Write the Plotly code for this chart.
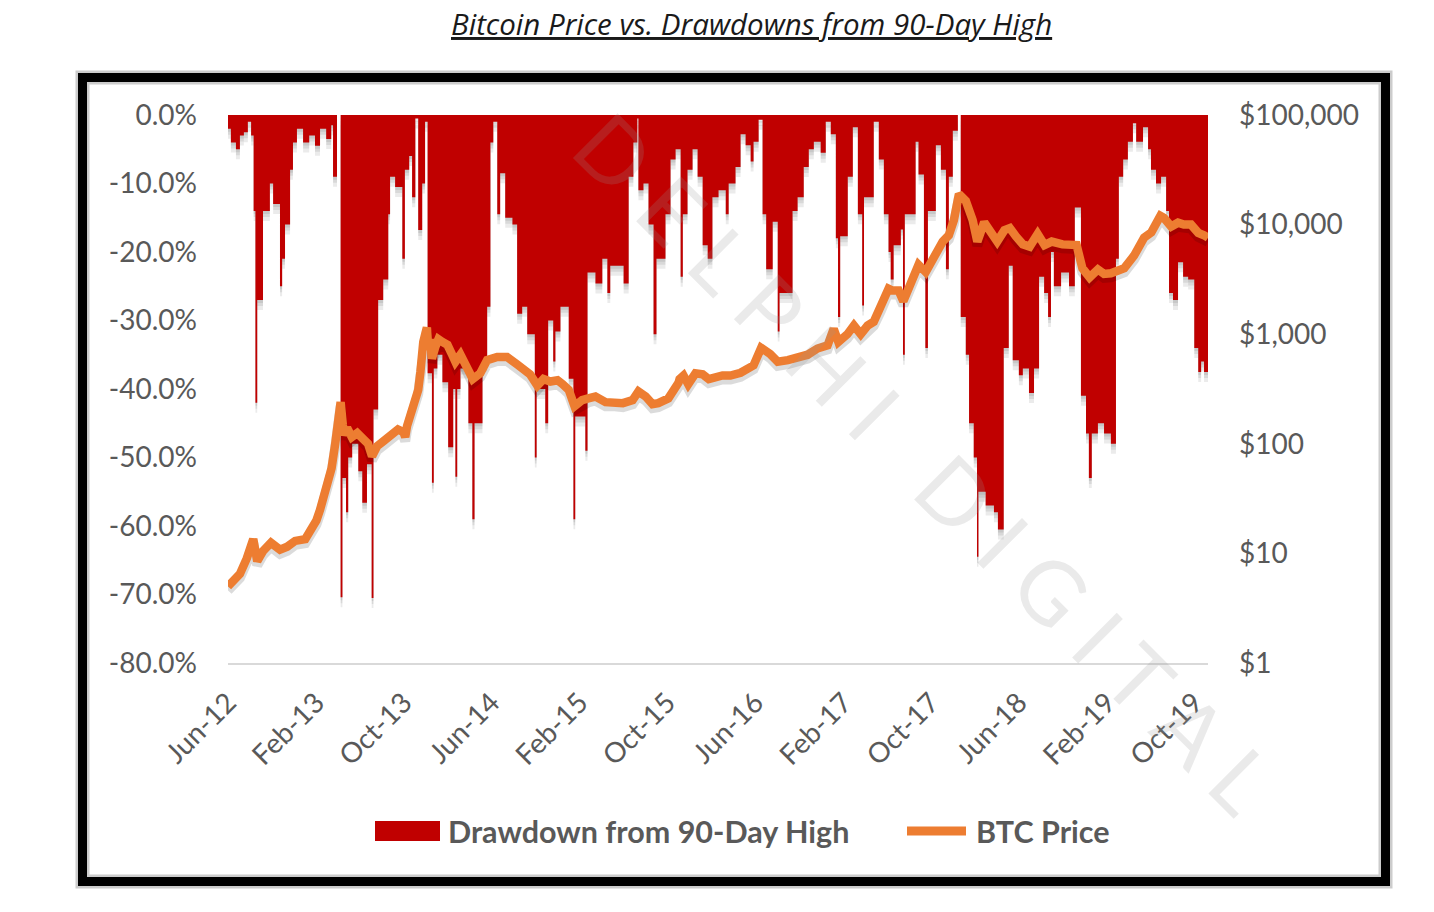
import plotly.graph_objects as go

# drawdown from 90-day high (%), step points
dd_dates = [
    "2012-06-01", "2012-06-09", "2012-06-23", "2012-07-04", "2012-07-15", "2012-07-26", "2012-08-04",
    "2012-08-11", "2012-08-16", "2012-08-21", "2012-09-06", "2012-09-25", "2012-10-04", "2012-10-23",
    "2012-10-29", "2012-11-06", "2012-11-20", "2012-11-28", "2012-12-09", "2012-12-26", "2013-01-12",
    "2013-01-28", "2013-02-11", "2013-02-28", "2013-03-14", "2013-03-19", "2013-03-30", "2013-04-09",
    "2013-04-14", "2013-04-24", "2013-04-30", "2013-05-11", "2013-05-28", "2013-06-08", "2013-06-21",
    "2013-07-04", "2013-07-09", "2013-07-22", "2013-08-05", "2013-08-19", "2013-08-24", "2013-09-07",
    "2013-09-27", "2013-10-04", "2013-10-16", "2013-10-24", "2013-11-02", "2013-11-10", "2013-11-21",
    "2013-11-29", "2013-12-06", "2013-12-18", "2013-12-23", "2014-01-02", "2014-01-16", "2014-02-01",
    "2014-02-15", "2014-02-21", "2014-02-26", "2014-03-07", "2014-03-29", "2014-04-09", "2014-04-15",
    "2014-05-07", "2014-05-20", "2014-05-29", "2014-06-06", "2014-06-17", "2014-06-25", "2014-07-09",
    "2014-07-29", "2014-08-11", "2014-08-25", "2014-09-08", "2014-09-29", "2014-10-04", "2014-10-28",
    "2014-11-05", "2014-11-19", "2014-11-25", "2014-12-09", "2015-01-01", "2015-01-14", "2015-01-19",
    "2015-02-16", "2015-02-22", "2015-03-16", "2015-04-04", "2015-04-18", "2015-04-26", "2015-06-02",
    "2015-06-16", "2015-06-29", "2015-07-10", "2015-07-13", "2015-07-27", "2015-08-10", "2015-08-24",
    "2015-09-01", "2015-09-26", "2015-10-10", "2015-10-24", "2015-11-07", "2015-11-13", "2015-11-26",
    "2015-12-10", "2015-12-24", "2016-01-07", "2016-01-21", "2016-02-03", "2016-02-20", "2016-03-11",
    "2016-03-19", "2016-04-07", "2016-04-21", "2016-05-05", "2016-05-19", "2016-05-27", "2016-06-10",
    "2016-06-21", "2016-07-01", "2016-07-19", "2016-08-02", "2016-08-07", "2016-09-12", "2016-09-26",
    "2016-10-13", "2016-10-27", "2016-11-10", "2016-11-29", "2016-12-13", "2016-12-27", "2017-01-10",
    "2017-01-16", "2017-01-22", "2017-02-12", "2017-02-26", "2017-03-12", "2017-03-24", "2017-03-29",
    "2017-04-25", "2017-05-09", "2017-05-23", "2017-06-05", "2017-06-11", "2017-06-19", "2017-07-09",
    "2017-07-15", "2017-07-20", "2017-08-19", "2017-08-27", "2017-09-11", "2017-09-15", "2017-09-22",
    "2017-10-14", "2017-10-28", "2017-11-11", "2017-11-19", "2017-11-30", "2017-12-14", "2017-12-22",
    "2018-01-05", "2018-01-14", "2018-01-27", "2018-02-05", "2018-02-09", "2018-03-01", "2018-03-24",
    "2018-04-04", "2018-04-20", "2018-05-04", "2018-05-15", "2018-06-01", "2018-06-12", "2018-06-29",
    "2018-07-13", "2018-07-27", "2018-08-10", "2018-08-21", "2018-08-29", "2018-09-06", "2018-09-26",
    "2018-10-18", "2018-11-03", "2018-11-20", "2018-12-04", "2018-12-12", "2018-12-20", "2019-01-06",
    "2019-01-23", "2019-02-11", "2019-02-25", "2019-03-05", "2019-03-17", "2019-03-30", "2019-04-13",
    "2019-04-22", "2019-05-11", "2019-05-25", "2019-06-02", "2019-06-16", "2019-06-30", "2019-07-14",
    "2019-07-22", "2019-08-02", "2019-08-16", "2019-08-30", "2019-09-13", "2019-09-30", "2019-10-11",
    "2019-10-19", "2019-10-27", "2019-11-07",
]
dd_pct = [
    -2, -4, -5, -3, -2.5, -1, -3,
    -14, -42, -27, -14, -10, -13, -25,
    -21, -16, -8, -4, -2, -4, -3,
    -4.5, -2, -3.5, -1.5, -9, 0, -70.4,
    -53, -58, -50, -48, -52, -56.6, -51,
    -70.5, -43, -27, -24, -14.5, -9, -10.5,
    -21, -8, -6, -12, -0.5, -16.8, -10,
    -1, -37.7, -53.7, -37, -35, -39, -48.5,
    -40, -52.8, -40, -37, -45, -59, -45,
    -36, -28, -4, -1, -14.5, -8.5, -15,
    -16, -29, -28, -32, -50, -40, -45,
    -30, -36, -31.6, -28, -38.5, -59, -44,
    -49, -23, -24.6, -21, -26, -22, -24.6,
    -9, -4, -0.5, -11, -10, -16, -32,
    -21, -14.5, -6.5, -5, -23.6, -14.5, -8,
    -5, -9, -19, -21, -12, -11, -14.5,
    -10, -7.6, -2.8, -4.4, -6.8, -3.9, -0.7,
    -14.5, -22.5, -15.6, -31.6, -26, -14, -12,
    -7.6, -5, -3.9, -5.5, -1, -2.8, -18,
    -29.5, -17.7, -9, -1.8, -14.5, -27.8, -12,
    -1, -6.5, -14.5, -20, -24, -19, -16.7,
    -35, -14.5, -3.9, -8.7, -22.5, -34, -14,
    -4.4, -8, -22.5, -9, -2.3, 0, -29.5,
    -35, -45, -50, -64.5, -55, -57, -58,
    -60.5, -34, -22, -35.8, -38, -37, -40.6,
    -37, -23.6, -26, -29.5, -20, -25, -23,
    -25, -13.5, -41, -46.5, -53, -46.5, -45,
    -46.5, -48, -21, -9, -6.5, -3.9, -1.2,
    -3.9, -1.8, -5, -8, -10, -9, -14,
    -26, -27, -21.5, -23.6, -24, -34, -37.5,
    -36, -37.5, -37.5,
]

# BTC price (USD)
price_dates = [
    "2012-06-01", "2012-07-04", "2012-07-23", "2012-08-10", "2012-08-21", "2012-09-06", "2012-09-28",
    "2012-10-23", "2012-11-12", "2012-12-04", "2013-01-01", "2013-01-17", "2013-02-01", "2013-02-11",
    "2013-03-01", "2013-03-15", "2013-03-25", "2013-04-03", "2013-04-09", "2013-04-15", "2013-04-19",
    "2013-04-27", "2013-05-10", "2013-05-25", "2013-06-10", "2013-06-24", "2013-07-05", "2013-07-19",
    "2013-08-05", "2013-08-30", "2013-09-15", "2013-09-30", "2013-10-05", "2013-10-10", "2013-10-21",
    "2013-11-02", "2013-11-10", "2013-11-16", "2013-11-24", "2013-12-04", "2013-12-08", "2013-12-13",
    "2013-12-18", "2013-12-27", "2014-01-05", "2014-01-16", "2014-01-30", "2014-02-12", "2014-02-21",
    "2014-03-07", "2014-03-27", "2014-04-10", "2014-05-01", "2014-05-20", "2014-06-17", "2014-07-14",
    "2014-08-11", "2014-09-16", "2014-10-06", "2014-10-23", "2014-11-11", "2014-12-01", "2014-12-15",
    "2015-01-01", "2015-01-17", "2015-02-07", "2015-02-24", "2015-03-16", "2015-04-13", "2015-05-02",
    "2015-05-31", "2015-06-27", "2015-07-13", "2015-08-02", "2015-08-21", "2015-09-06", "2015-10-04",
    "2015-11-01", "2015-11-04", "2015-11-15", "2015-11-28", "2015-12-18", "2016-01-07", "2016-01-24",
    "2016-02-12", "2016-03-02", "2016-03-24", "2016-04-21", "2016-05-27", "2016-06-17", "2016-07-12",
    "2016-08-02", "2016-08-30", "2016-09-26", "2016-10-24", "2016-11-20", "2016-12-18", "2017-01-04",
    "2017-01-17", "2017-02-11", "2017-03-01", "2017-03-20", "2017-04-08", "2017-04-25", "2017-05-14",
    "2017-06-05", "2017-06-16", "2017-07-03", "2017-07-16", "2017-08-11", "2017-08-27", "2017-09-16",
    "2017-10-14", "2017-11-02", "2017-11-19", "2017-12-03", "2017-12-17", "2018-01-05", "2018-01-24",
    "2018-02-06", "2018-02-25", "2018-03-16", "2018-04-02", "2018-04-22", "2018-05-07", "2018-05-24",
    "2018-06-12", "2018-07-01", "2018-07-23", "2018-08-11", "2018-08-31", "2018-09-30", "2018-11-08",
    "2018-11-24", "2018-12-14", "2019-01-06", "2019-01-23", "2019-02-11", "2019-03-03", "2019-03-20",
    "2019-04-16", "2019-05-14", "2019-06-03", "2019-06-22", "2019-06-28", "2019-07-08", "2019-07-28",
    "2019-08-16", "2019-09-01", "2019-09-21", "2019-10-11", "2019-10-27", "2019-11-07",
]
price_usd = [
    5.0, 6.5, 9.0, 13.5, 8.5, 10.5, 12.5,
    10.8, 11.5, 13.0, 13.5, 16, 20, 25,
    40, 60, 100, 160, 240, 150, 120,
    140, 115, 125, 110, 100, 77, 95,
    105, 125, 135, 128, 115, 145, 195,
    240, 310, 450, 850, 1150, 720, 900,
    600, 760, 900, 850, 800, 650, 560,
    650, 490, 390, 440, 580, 620, 620,
    530, 430, 340, 390, 370, 380, 350,
    310, 220, 250, 260, 270, 240, 240,
    235, 250, 300, 270, 230, 235, 260,
    360, 390, 420, 350, 440, 430, 390,
    410, 420, 420, 445, 520, 750, 660,
    560, 580, 600, 650, 740, 790, 1120,
    850, 1000, 1200, 1000, 1200, 1300, 1750,
    2600, 2500, 2500, 2000, 3400, 4300, 3700,
    5500, 7000, 8000, 11000, 19000, 16500, 11000,
    7000, 10500, 8300, 7000, 8900, 9300, 7800,
    6600, 6300, 8200, 6500, 7000, 6600, 6500,
    4000, 3300, 3900, 3550, 3600, 3850, 4000,
    5200, 7600, 8500, 11000, 12000, 11500, 9600,
    10400, 10000, 10000, 8400, 8000, 7600,
]

x_ticks = ["2012-06-01", "2013-02-01", "2013-10-01", "2014-06-01", "2015-02-01", "2015-10-01",
           "2016-06-01", "2017-02-01", "2017-10-01", "2018-06-01", "2019-02-01", "2019-10-01"]
dd_ticks = [0, -0.1, -0.2, -0.3, -0.4, -0.5, -0.6, -0.7, -0.8]
dd_tick_text = ["0.0%", "-10.0%", "-20.0%", "-30.0%", "-40.0%", "-50.0%", "-60.0%", "-70.0%", "-80.0%"]
price_ticks = [1, 10, 100, 1000, 10000, 100000]
price_tick_text = ["$1", "$10", "$100", "$1,000", "$10,000", "$100,000"]

RED = "#C00000"
ORANGE = "#ED7D31"
GREY_TXT = "#595959"
X_RANGE = ["2012-06-01", "2019-11-07"]

# page body has an 8px margin, so the plot box is pulled back by that much
L, T, PW, PH = 220, 107, 980, 548

dd_frac = [v / 100 for v in dd_pct]


def lin_shift(k):
    d = k / PH * 0.8
    return [-0.8 + d, d]


fig = go.Figure()

# soft drop shadow under the red columns: same data on slightly shifted hidden axes
for ax in ["y", "y2", "y3"]:
    fig.add_trace(go.Scatter(x=dd_dates, y=dd_frac, yaxis=ax, mode="lines",
                             line=dict(width=0, shape="hv"), fill="tozeroy",
                             fillcolor="rgba(0,0,0,0.08)", hoverinfo="skip", showlegend=False))

fig.add_trace(go.Scatter(x=dd_dates, y=dd_frac, yaxis="y4", mode="lines",
                         name="Drawdown from 90-Day High",
                         line=dict(width=0, shape="hv", color=RED), fill="tozeroy",
                         fillcolor=RED, showlegend=False))

# shadow for the price line, then the line itself
fig.add_trace(go.Scatter(x=price_dates, y=price_usd, yaxis="y5", mode="lines",
                         line=dict(width=10, color="rgba(0,0,0,0.14)"), hoverinfo="skip",
                         showlegend=False))
fig.add_trace(go.Scatter(x=price_dates, y=price_usd, yaxis="y6", mode="lines", name="BTC Price",
                         line=dict(width=8.5, color=ORANGE), showlegend=False))

tick_font = dict(family="Lato", size=28, color=GREY_TXT)

fig.update_layout(
    width=1434, height=912,
    margin=dict(l=L, r=1434 - L - PW, t=T, b=912 - T - PH),
    paper_bgcolor="white", plot_bgcolor="white",
    showlegend=False,
    xaxis=dict(type="date", range=X_RANGE, tickvals=x_ticks, tickformat="%b-%y", tickangle=-45,
               showgrid=False, zeroline=False, showline=True, linecolor="#d9d9d9", linewidth=2,
               ticks="", tickfont=tick_font, ticklabelstandoff=10),
    yaxis=dict(range=lin_shift(3), visible=False),
    yaxis2=dict(range=lin_shift(6), overlaying="y", visible=False),
    yaxis3=dict(range=lin_shift(10), overlaying="y", visible=False),
    yaxis4=dict(range=[-0.8, 0], overlaying="y", side="left", tickvals=dd_ticks,
                ticktext=dd_tick_text, showgrid=False, zeroline=False, ticks="",
                tickfont=tick_font, ticklabelstandoff=30),
    yaxis5=dict(type="log", range=[4 / 109.6, 5 + 4 / 109.6], overlaying="y", visible=False),
    yaxis6=dict(type="log", range=[0, 5], overlaying="y", side="right", tickvals=price_ticks,
                ticktext=price_tick_text, showgrid=False, zeroline=False, ticks="",
                tickfont=tick_font, ticklabelstandoff=30),
)


def px_x(p):
    return (p - 8 - L) / PW


def px_y(p):
    return (T + PH - (p - 8)) / PH


shapes = [
    # grey outer glow + black frame
    dict(type="rect", xref="paper", yref="paper", x0=px_x(82.5), x1=px_x(1385.5),
         y0=px_y(881.5), y1=px_y(77.5), line=dict(color="#cccccc", width=14)),
    dict(type="rect", xref="paper", yref="paper", x0=px_x(82.5), x1=px_x(1385.5),
         y0=px_y(881.5), y1=px_y(77.5), line=dict(color="black", width=9)),
    # legend swatches
    dict(type="rect", xref="paper", yref="paper", x0=px_x(375), x1=px_x(440),
         y0=px_y(841), y1=px_y(821), fillcolor=RED, line=dict(width=0)),
    dict(type="line", xref="paper", yref="paper", x0=px_x(907), x1=px_x(966),
         y0=px_y(831), y1=px_y(831), line=dict(color=ORANGE, width=9)),
]
fig.update_layout(shapes=shapes)

legend_font = dict(family="Lato", size=30.5, color=GREY_TXT, weight="bold")
fig.add_annotation(text="Drawdown from 90-Day High", xref="paper", yref="paper",
                   x=px_x(446), y=px_y(831), xanchor="left", yanchor="middle",
                   showarrow=False, font=legend_font)
fig.add_annotation(text="BTC Price", xref="paper", yref="paper",
                   x=px_x(974), y=px_y(831), xanchor="left", yanchor="middle",
                   showarrow=False, font=legend_font)

fig.add_annotation(text="<i><u>Bitcoin Price vs. Drawdowns from 90-Day High</u></i>",
                   xref="paper", yref="paper", x=px_x(751.5), y=px_y(24),
                   xanchor="center", yanchor="middle", showarrow=False, borderpad=0,
                   font=dict(family="Open Sans", size=29.5, color="#1a1a1a"))

# faint diagonal watermark
fig.add_annotation(text="D E L P H I   D I G I T A L", xref="paper", yref="paper",
                   x=px_x(925), y=px_y(462), xanchor="center", yanchor="middle",
                   showarrow=False, textangle=45,
                   font=dict(family="Lato", size=88, color="rgba(150,150,150,0.2)"))

fig.write_html("out.html")
